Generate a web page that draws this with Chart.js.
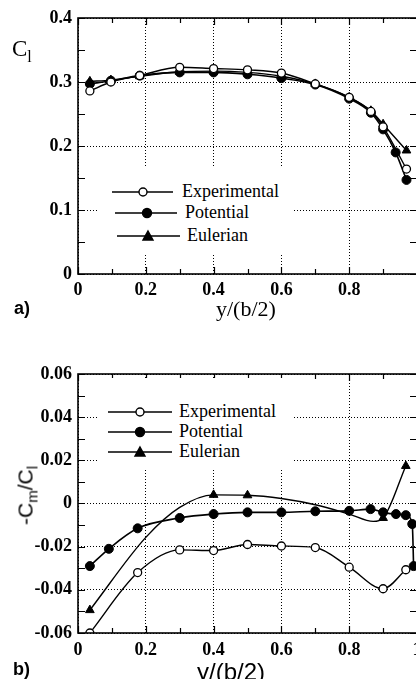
<!DOCTYPE html>
<html><head><meta charset="utf-8">
<script src="https://cdn.jsdelivr.net/npm/chart.js@4.4.1/dist/chart.umd.min.js"></script>
<style>
html,body{margin:0;padding:0;background:#fff;overflow:hidden;width:416px;height:679px;}
#wrap{position:relative;width:416px;height:679px;overflow:hidden;background:#fff;}
canvas{position:absolute;left:0;}
.lab{position:absolute;white-space:nowrap;color:#000;line-height:1;}
.serif{font-family:"Liberation Serif","Times New Roman",serif;}
.sans{font-family:"Liberation Sans",Arial,sans-serif;}
.leg{position:absolute;background:#fff;}
</style></head>
<body>
<div id="wrap">
<canvas id="c1" width="440" height="310" style="top:0px"></canvas>
<canvas id="c2" width="440" height="349" style="top:330px"></canvas>

<div class="leg" style="left:97px;top:167px;width:195px;height:88px;">
<svg width="195" height="88" style="position:absolute;left:0;top:0">
<g stroke="#000" stroke-width="1.4" fill="none">
<line x1="15" y1="25" x2="76" y2="25"/><circle cx="46" cy="25" r="4" fill="#fff"/>
<line x1="18" y1="46" x2="80" y2="46"/><circle cx="50" cy="46" r="4.5" fill="#000"/>
<line x1="20" y1="69" x2="83" y2="69"/><polygon points="51,64 56,73 46,73" fill="#000"/>
</g>
<g font-family="Liberation Serif, Times New Roman, serif" font-size="18" fill="#000">
<text x="85" y="30">Experimental</text>
<text x="88" y="51">Potential</text>
<text x="90" y="74">Eulerian</text>
</g>
</svg>
</div>

<div class="leg" style="left:97px;top:378px;width:195px;height:90px;">
<svg width="195" height="90" style="position:absolute;left:0;top:0">
<g stroke="#000" stroke-width="1.4" fill="none">
<line x1="11" y1="34" x2="75" y2="34"/><circle cx="43" cy="34" r="4" fill="#fff"/>
<line x1="11" y1="54" x2="75" y2="54"/><circle cx="43" cy="54" r="4.5" fill="#000"/>
<line x1="11" y1="74" x2="75" y2="74"/><polygon points="43,69 48,78 38,78" fill="#000"/>
</g>
<g font-family="Liberation Serif, Times New Roman, serif" font-size="18" fill="#000">
<text x="82" y="39">Experimental</text>
<text x="82" y="59">Potential</text>
<text x="82" y="79">Eulerian</text>
</g>
</svg>
</div>

<div class="lab serif" style="left:12px;top:37px;font-size:23px;">C<span style="font-size:16px;position:relative;top:6px;">l</span></div>
<div class="lab serif" style="left:216px;top:298px;font-size:22px;">y/(b/2)</div>
<div class="lab sans" style="left:14px;top:299px;font-size:18px;font-weight:bold;">a)</div>

<div class="lab sans" style="left:197px;top:660px;font-size:24px;">y/(b/2)</div>
<div class="lab sans" style="left:13px;top:660px;font-size:18px;font-weight:bold;">b)</div>
<div class="lab sans" style="left:-12px;top:485px;width:74px;text-align:center;font-size:21px;transform:rotate(-90deg);">-C<span style="font-size:15px;position:relative;top:5px;">m</span>/C<span style="font-size:15px;position:relative;top:5px;">l</span></div>
</div>

<script>
// ---- data: (a) lift coefficient C_l ----
const topExpX = [0.035, 0.097, 0.182, 0.3, 0.4, 0.5, 0.6, 0.7, 0.8, 0.864, 0.9, 0.969];
const topExpY = [0.286, 0.300, 0.310, 0.323, 0.321, 0.319, 0.314, 0.297, 0.276, 0.254, 0.230, 0.164];
const topPotX = [0.035, 0.097, 0.182, 0.3, 0.4, 0.5, 0.6, 0.7, 0.8, 0.864, 0.9, 0.937, 0.969];
const topPotY = [0.297, 0.302, 0.310, 0.315, 0.315, 0.312, 0.306, 0.296, 0.274, 0.252, 0.226, 0.190, 0.147];
const topEulX = [0.035, 0.097, 0.182, 0.3, 0.4, 0.5, 0.6, 0.7, 0.8, 0.864, 0.9, 0.969];
const topEulY = [0.301, 0.303, 0.309, 0.316, 0.317, 0.315, 0.309, 0.297, 0.276, 0.255, 0.234, 0.193];

// ---- data: (b) -C_m/C_l ----
const botExpX = [0.035, 0.176, 0.3, 0.4, 0.5, 0.6, 0.7, 0.8, 0.9, 0.967];
const botExpY = [-0.060, -0.032, -0.0215, -0.0218, -0.019, -0.0197, -0.0204, -0.0295, -0.0395, -0.0307];
const botPotX = [0.035, 0.091, 0.176, 0.3, 0.4, 0.5, 0.6, 0.7, 0.8, 0.863, 0.9, 0.938, 0.967, 0.986, 0.99];
const botPotY = [-0.029, -0.021, -0.0115, -0.0067, -0.0049, -0.0041, -0.0041, -0.0036, -0.0034, -0.0026, -0.0041, -0.0049, -0.0054, -0.0095, -0.029];
const botEulCurveX = [0.035, 0.2, 0.3, 0.4, 0.5, 0.6, 0.7, 0.8, 0.871, 0.9, 0.967];
const botEulCurveY = [-0.0494, -0.0157, -0.0018, 0.004, 0.0038, 0.0023, -0.0006, -0.0049, -0.0083, -0.0067, 0.0174];
const botEulMarkX = [0.035, 0.4, 0.5, 0.9, 0.967];
const botEulMarkY = [-0.0494, 0.004, 0.0038, -0.0067, 0.0174];

// ---- ticks ----
const xTickVals = [0, 0.2, 0.4, 0.6, 0.8, 1];
const topXTickLabels = ['0', '0.2', '0.4', '0.6', '0.8', ''];
const botXTickLabels = ['0', '0.2', '0.4', '0.6', '0.8', '1'];
const topYTickVals = [0, 0.1, 0.2, 0.3, 0.4];
const topYTickLabels = ['0', '0.1', '0.2', '0.3', '0.4'];
const botYTickVals = [-0.06, -0.04, -0.02, 0, 0.02, 0.04, 0.06];
const botYTickLabels = ['-0.06', '-0.04', '-0.02', '0', '0.02', '0.04', '0.06'];

const pts = (xs, ys) => xs.map((x, i) => ({x: x, y: ys[i]}));

const expStyle = {borderColor:'#000', backgroundColor:'#fff', pointStyle:'circle', pointRadius:4, pointBorderWidth:1.3, pointBackgroundColor:'#fff', pointBorderColor:'#000', borderWidth:1.4};
const potStyle = {borderColor:'#000', backgroundColor:'#000', pointStyle:'circle', pointRadius:4.5, pointBorderWidth:1, pointBackgroundColor:'#000', pointBorderColor:'#000', borderWidth:1.6};
const eulStyle = {borderColor:'#000', backgroundColor:'#000', pointStyle:'triangle', pointRadius:5, pointBorderWidth:1, pointBackgroundColor:'#000', pointBorderColor:'#000', borderWidth:1.4};

const tickFont = {family:'"Liberation Serif", "Times New Roman", serif', size:18, weight:'bold'};

function framePlugin(minorX, minorY) {
  return {
    id: 'frame',
    afterDraw(chart) {
      const {ctx, chartArea: a, scales} = chart;
      const xs = scales.x, ys = scales.y;
      ctx.save();
      ctx.strokeStyle = '#000';
      ctx.lineWidth = 1.2;
      ctx.beginPath();
      for (let v = xs.min; v <= xs.max + 1e-9; v += minorX) {
        const p = Math.round(xs.getPixelForValue(v)) + 0.5;
        const major = xTickVals.some(m => Math.abs(m - v) < 1e-6);
        const L = major ? 7 : 5;
        ctx.moveTo(p, a.bottom); ctx.lineTo(p, a.bottom - L);
        ctx.moveTo(p, a.top); ctx.lineTo(p, a.top + L);
      }
      for (let v = ys.min; v <= ys.max + 1e-9; v += minorY) {
        const p = Math.round(ys.getPixelForValue(v)) + 0.5;
        const L = 7;
        ctx.moveTo(a.left, p); ctx.lineTo(a.left + L, p);
        ctx.moveTo(a.right, p); ctx.lineTo(a.right - L, p);
      }
      ctx.stroke();
      ctx.lineWidth = 1.6;
      ctx.strokeRect(a.left, a.top, a.right - a.left, a.bottom - a.top);
      ctx.restore();
    }
  };
}

function build(id, datasets, o) {
  return new Chart(document.getElementById(id), {
    type: 'line',
    data: {datasets: datasets},
    options: {
      responsive: false, animation: false, devicePixelRatio: 1,
      layout: {padding: {top: o.padTop, right: 23, left: 0, bottom: 0}},
      plugins: {legend: {display: false}, tooltip: {enabled: false}},
      elements: {line: {tension: 0.4, cubicInterpolationMode: 'monotone'}},
      scales: {
        x: {
          type: 'linear', min: 0, max: 1,
          afterFit: s => { s.height = o.xh; },
          afterBuildTicks: s => { s.ticks = xTickVals.map(v => ({value: v})); },
          ticks: {color:'#000', padding: o.xPad, maxRotation:0, autoSkip:false, font: tickFont,
            callback: (v, i) => o.xLabels[i]},
          grid: {color:'#000', lineWidth:1, drawTicks:false},
          border: {display:false, dash:[1,2]}
        },
        y: {
          type: 'linear', min: o.yMin, max: o.yMax,
          afterFit: s => { s.width = 78; },
          afterBuildTicks: s => { s.ticks = o.yVals.map(v => ({value: v})); },
          ticks: {color:'#000', padding: 6, autoSkip:false, font: tickFont,
            callback: (v, i) => o.yLabels[i]},
          grid: {color:'#000', lineWidth:1, drawTicks:false},
          border: {display:false, dash:[1,2]}
        }
      }
    },
    plugins: [framePlugin(0.1, o.minorY)]
  });
}

build('c1', [
  Object.assign({label:'Experimental', data: pts(topExpX, topExpY)}, expStyle),
  Object.assign({label:'Potential', data: pts(topPotX, topPotY)}, potStyle),
  Object.assign({label:'Eulerian', data: pts(topEulX, topEulY)}, eulStyle)
], {padTop:18, xh:36, xPad:6, xLabels: topXTickLabels, yMin:0, yMax:0.4, yVals: topYTickVals, yLabels: topYTickLabels, minorY:0.05});

build('c2', [
  Object.assign({label:'Experimental', data: pts(botExpX, botExpY)}, expStyle),
  Object.assign({label:'Potential', data: pts(botPotX, botPotY)}, potStyle),
  Object.assign({label:'Eulerian', data: pts(botEulCurveX, botEulCurveY)}, eulStyle, {pointRadius:0}),
  Object.assign({label:'Eulerian markers', data: pts(botEulMarkX, botEulMarkY), showLine:false}, eulStyle)
], {padTop:44, xh:46, xPad:7, xLabels: botXTickLabels, yMin:-0.06, yMax:0.06, yVals: botYTickVals, yLabels: botYTickLabels, minorY:0.01});
</script>
</body></html>
